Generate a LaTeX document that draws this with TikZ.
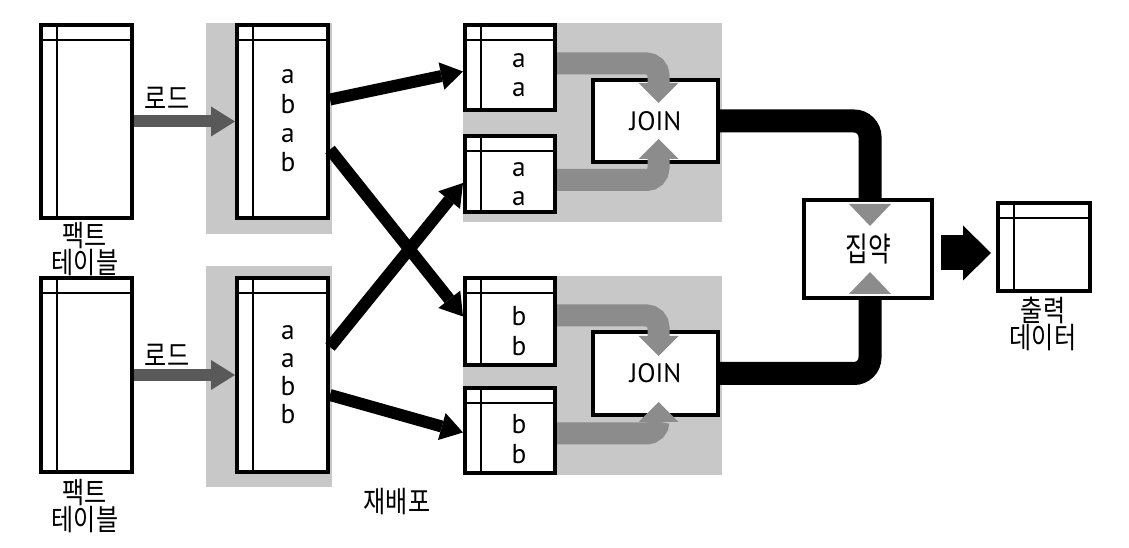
\documentclass[tikz,border=0pt]{standalone}
\usepackage{fontspec}
\setmainfont{PT Sans}
\newfontfamily\krfont[FakeStretch=0.82]{Noto Sans CJK KR}
\newfontfamily\aggfont[FakeStretch=0.74]{Noto Sans CJK KR}
\usetikzlibrary{arrows.meta,calc,fit}
\pgfdeclarelayer{back}
\pgfdeclarelayer{mid}
\pgfsetlayers{back,mid,main}
\definecolor{bgray}{HTML}{C8C8C8}
\definecolor{loadgray}{HTML}{595959}
\definecolor{joingray}{HTML}{8C8C8C}
\tikzset{
  panel/.style={fill=bgray, draw=none, inner sep=0pt, outer sep=0pt},
  tbl/.style={draw=black, line width=3pt, fill=white, inner sep=0pt},
  innerline/.style={draw=black, line width=1.5pt},
  opbox/.style={draw=black, line width=3pt, fill=white, inner sep=0pt},
  cell/.style={font=\fontsize{20.5}{22}\selectfont, align=center, inner sep=0pt},
  optext/.style={font=\fontsize{20}{22}\selectfont, inner sep=0pt},
  lbl/.style={font=\krfont\fontsize{22}{17.5}\selectfont, align=center, inner sep=0pt},
  load/.style={draw=loadgray, line width=9pt, -{Triangle[width=22.5pt,length=18pt,line width=0pt]}},
  redist/.style={draw=black, line width=9pt, -{Triangle[width=21pt,length=16.5pt,line width=0pt]}},
  feed/.style={draw=joingray, line width=16.5pt, rounded corners=9pt, -{Triangle[width=30pt,length=15pt,line width=0pt]}},
  merge/.style={draw=black, line width=17.25pt, rounded corners=12pt},
  bigarrow/.style={draw=black, line width=26.25pt, -{Triangle[width=41.25pt,length=21pt,line width=0pt]}},
}
\newcommand\dbtable[5]{%
  \node[tbl, fit={(#2,#3) (#4,#5)}] (#1) {};
  \draw[innerline] ($(#1.north west)+(0,17)$) -- ($(#1.north east)+(0,17)$);
  \draw[innerline] ($(#1.north west)+(18,0)$) -- ($(#1.south west)+(18,0)$);
}
\begin{document}
\begin{tikzpicture}[x=0.75pt,y=-0.75pt]
\useasboundingbox (0,0) rectangle (1129,548);
\begin{pgfonlayer}{back}
\fill[white] (0,0) rectangle (1129,548);
% gray panels
\node[panel, fit={(206,23) (332,234)}] (p1) {};
\node[panel, fit={(206,266) (332,487)}] (p2) {};
\node[panel, fit={(463,23) (722,222)}] (p3) {};
\node[panel, fit={(463,276) (722,475)}] (p4) {};
\end{pgfonlayer}

% tables
\dbtable{f1}{41}{25}{132}{218}
\dbtable{f2}{41}{278}{132}{472}
\dbtable{t1}{237}{25}{328}{218}
\dbtable{t2}{237}{278}{328}{472}
\dbtable{a1}{465}{25}{555}{110}
\dbtable{a2}{465}{136}{555}{212}
\dbtable{b1}{465}{278}{555}{365}
\dbtable{b2}{465}{388}{555}{473}
\dbtable{out}{998}{203}{1090}{291}

% table contents
\node[cell] (t1txt) at (288,121) {a\\b\\a\\b};
\node[cell, font=\fontsize{20.5}{21}\selectfont] (t2txt) at (288,375) {a\\a\\b\\b};
\node[cell] (a1txt) at (519,75) {a\\a};
\node[cell] (a2txt) at (519,184) {a\\a};
\node[cell] (b1txt) at (519,331) {b\\b};
\node[cell] (b2txt) at (519,439) {b\\b};

% labels
\node[lbl] (load1) at (167,98) {로드};
\node[lbl] (load2) at (167,355) {로드};
\node[lbl] (fact1) at (85,249) {팩트\\테이블};
\node[lbl] (fact2) at (85,506) {팩트\\테이블};
\node[lbl] (redistlbl) at (397,502) {재배포};
\node[lbl] (outlbl) at (1043,324) {출력\\데이터};

% JOIN boxes
\node[opbox, fit={(593,80) (718,162)}] (j1) {};
\node[optext] (j1txt) at (j1.center) {JOIN};
\node[opbox, fit={(593,332) (718,415)}] (j2) {};
\node[optext] (j2txt) at (j2.center) {JOIN};

% aggregation box
\node[opbox, fit={(804,200) (932,298)}] (agg) {};
\node[lbl, font=\aggfont\fontsize{25}{25}\selectfont] (aggtxt) at (agg.center) {집약};

% load arrows
\draw[load] (f1.east) -- (t1.west);
\draw[load] (f2.east) -- (t2.west);

% redistribution arrows
\draw[redist] ($(t1.east)+(0,-22)$) -- ($(a1.west)+(0,4)$);
\draw[redist] ($(t1.east)+(0,28)$) -- ($(b1.west)+(0,-5)$);
\draw[redist] ($(t2.east)+(0,-28)$) -- ($(a2.west)+(0,9)$);
\draw[redist] ($(t2.east)+(0,20)$) -- ($(b2.west)+(0,2)$);

% feed arrows into JOIN
\draw[feed] ($(a1.east)+(0,-4)$) -| ($(j1.north)+(3,25)$);
\draw[feed] ($(a2.east)+(0,6)$) -| ($(j1.south)+(3,-25)$);
\draw[feed] ($(b1.east)+(0,-6)$) -| ($(j2.north)+(3,26)$);
\draw[feed] ($(b2.east)+(0,3)$) -| ($(j2.south)+(3,-15)$);

% JOIN results into aggregation
\begin{pgfonlayer}{mid}
\draw[merge] (j1.east) -| ($(agg.north)+(2,0)$);
\draw[merge] (j2.east) -| ($(agg.south)+(2,0)$);
\end{pgfonlayer}
\fill[joingray] ($(agg.north)+(-19,6)$) -- ($(agg.north)+(23,6)$) -- ($(agg.north)+(2,28)$) -- cycle;
\fill[joingray] ($(agg.south)+(-19,-6)$) -- ($(agg.south)+(23,-6)$) -- ($(agg.south)+(2,-28)$) -- cycle;

% output arrow
\draw[bigarrow] ($(agg.east)+(7,4)$) -- ($(out.west)+(-5,6)$);
\end{tikzpicture}
\end{document}
